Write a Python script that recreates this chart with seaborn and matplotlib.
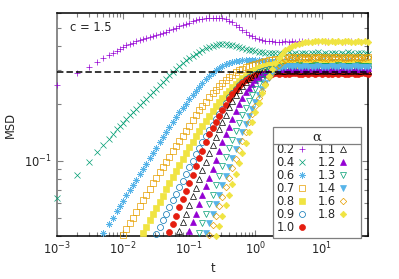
import matplotlib
matplotlib.use("Agg")
import matplotlib.pyplot as plt
from matplotlib.ticker import NullFormatter
import seaborn as sns

# sampling times (shared); each series uses the last len(values) times
t_grid = [0.001, 0.002, 0.003, 0.004, 0.005, 0.006, 0.007, 0.008, 0.009,
          0.01, 0.0112, 0.0126, 0.0141, 0.0158, 0.0178, 0.02, 0.0224, 0.0251, 0.0282,
          0.0316, 0.0355, 0.0398, 0.0447, 0.0501, 0.0562, 0.0631, 0.0708, 0.0794, 0.0891,
          0.1, 0.112, 0.126, 0.141, 0.158, 0.178, 0.2, 0.224, 0.251, 0.282,
          0.316, 0.355, 0.398, 0.447, 0.501, 0.562, 0.631, 0.708, 0.794, 0.891,
          1.0, 1.12, 1.26, 1.41, 1.58, 1.78, 2.0, 2.24, 2.51, 2.82,
          3.16, 3.55, 3.98, 4.47, 5.01, 5.62, 6.31, 7.08, 7.94, 8.91,
          10.0, 11.2, 12.6, 14.1, 15.8, 17.8, 20.0, 22.4, 25.1, 28.2,
          31.6, 35.5, 39.8, 44.7, 50.0]

msd_02 = [0.251, 0.290, 0.313, 0.332, 0.348, 0.361, 0.371, 0.380, 0.389,
          0.398, 0.405, 0.412, 0.419, 0.425, 0.431, 0.437, 0.442, 0.447, 0.453,
          0.459, 0.465, 0.472, 0.479, 0.486, 0.493, 0.501, 0.510, 0.519, 0.527,
          0.535, 0.543, 0.550, 0.556, 0.560, 0.564, 0.566, 0.568, 0.568, 0.566,
          0.562, 0.556, 0.547, 0.536, 0.522, 0.506, 0.490, 0.475, 0.462, 0.452,
          0.445, 0.439, 0.434, 0.430, 0.427, 0.425, 0.423,
          0.424, 0.421, 0.426, 0.423, 0.427, 0.422, 0.425, 0.428, 0.423, 0.426,
          0.421, 0.427, 0.424, 0.429, 0.422, 0.425, 0.428, 0.423, 0.426, 0.424,
          0.421, 0.427, 0.425, 0.422, 0.428, 0.424, 0.426, 0.423]
msd_04 = [0.0638, 0.0843, 0.0989, 0.111, 0.121, 0.130, 0.138, 0.146, 0.152,
          0.158, 0.166, 0.173, 0.180, 0.188, 0.196, 0.204, 0.212, 0.221, 0.230,
          0.240, 0.250, 0.260, 0.271, 0.282, 0.293, 0.304, 0.316, 0.327, 0.338,
          0.348, 0.358, 0.367, 0.376, 0.385, 0.392, 0.398, 0.403, 0.407, 0.410,
          0.411, 0.411, 0.409, 0.406, 0.403, 0.399, 0.394, 0.389, 0.385, 0.381,
          0.377, 0.374, 0.372, 0.370, 0.369, 0.368, 0.368,
          0.371, 0.366, 0.369, 0.372, 0.367, 0.370, 0.365, 0.369, 0.371, 0.366,
          0.370, 0.368, 0.372, 0.367, 0.369, 0.366, 0.371, 0.368, 0.365, 0.370,
          0.367, 0.372, 0.369, 0.366, 0.370, 0.368, 0.371, 0.367]
msd_06 = [0.0417, 0.0461, 0.0497, 0.0542, 0.0578,
          0.0614, 0.0655, 0.0698, 0.0745, 0.0794, 0.0847, 0.0904, 0.0964, 0.103, 0.110,
          0.117, 0.125, 0.133, 0.142, 0.151, 0.160, 0.170, 0.180, 0.190, 0.200,
          0.211, 0.222, 0.234, 0.245, 0.257, 0.268, 0.279, 0.289, 0.299, 0.308,
          0.316, 0.322, 0.327, 0.331, 0.335, 0.337, 0.339, 0.340, 0.340, 0.339,
          0.339, 0.338, 0.337, 0.336, 0.336, 0.335, 0.335,
          0.334, 0.336, 0.333, 0.335, 0.338, 0.334, 0.336, 0.332, 0.335, 0.337,
          0.333, 0.336, 0.334, 0.338, 0.335, 0.333, 0.337, 0.334, 0.336, 0.332,
          0.335, 0.338, 0.334, 0.336, 0.333, 0.335, 0.337, 0.334]
msd_07 = [0.0407, 0.0437, 0.0468, 0.0501, 0.0537, 0.0575, 0.0617, 0.0661, 0.0708, 0.0759,
          0.0813, 0.0866, 0.0923, 0.0983, 0.105, 0.112, 0.119, 0.127, 0.135, 0.144,
          0.153, 0.163, 0.174, 0.184, 0.195, 0.205, 0.216, 0.227, 0.237, 0.247,
          0.257, 0.266, 0.275, 0.284, 0.292, 0.299, 0.305, 0.311, 0.316, 0.321,
          0.325, 0.329, 0.333, 0.336, 0.339, 0.341, 0.343, 0.345, 0.347,
          0.348, 0.351, 0.347, 0.350, 0.352, 0.348, 0.351, 0.349, 0.353, 0.347,
          0.350, 0.352, 0.349, 0.351, 0.348, 0.353, 0.350, 0.347, 0.351, 0.349,
          0.352, 0.348, 0.350, 0.353, 0.349, 0.351]
msd_08 = [0.0417, 0.0449, 0.0484, 0.0521, 0.0562, 0.0606, 0.0653, 0.0704, 0.0759, 0.0818,
          0.0881, 0.0950, 0.102, 0.110, 0.118, 0.126, 0.135, 0.144, 0.153, 0.162,
          0.172, 0.182, 0.193, 0.203, 0.214, 0.224, 0.234, 0.244, 0.254, 0.263,
          0.272, 0.280, 0.288, 0.295, 0.302, 0.308, 0.313, 0.316, 0.318, 0.320, 0.322,
          0.324, 0.322, 0.326, 0.323, 0.325, 0.321, 0.324, 0.327, 0.323, 0.325,
          0.322, 0.326, 0.324, 0.323, 0.326, 0.322, 0.325, 0.324, 0.327, 0.323,
          0.321, 0.325, 0.324, 0.326, 0.322, 0.325, 0.323, 0.326]
msd_09 = [0.0412, 0.0446, 0.0484, 0.0525, 0.0569, 0.0617, 0.0668, 0.0724, 0.0785, 0.0851,
          0.0923, 0.100, 0.108, 0.117, 0.126, 0.135, 0.145, 0.155, 0.166, 0.177,
          0.188, 0.202, 0.216, 0.228, 0.240, 0.250, 0.260, 0.268, 0.275, 0.282,
          0.288, 0.293, 0.297, 0.301, 0.304, 0.306, 0.308,
          0.309, 0.311, 0.308, 0.310, 0.307, 0.311, 0.309, 0.312, 0.308, 0.310,
          0.309, 0.307, 0.311, 0.309, 0.310, 0.308, 0.312, 0.309, 0.307, 0.310,
          0.311, 0.308, 0.309, 0.312, 0.310, 0.307, 0.309, 0.311]
msd_10 = [0.0421, 0.0465, 0.0513, 0.0566, 0.0625, 0.0690, 0.0762, 0.0843, 0.0933, 0.103,
          0.113, 0.125, 0.138, 0.148, 0.159, 0.171, 0.184, 0.197, 0.211, 0.224,
          0.237, 0.247, 0.257, 0.265, 0.272, 0.277, 0.282, 0.284, 0.286, 0.287,
          0.288, 0.288, 0.289,
          0.287, 0.290, 0.288, 0.286, 0.289, 0.291, 0.287, 0.288, 0.290, 0.286,
          0.289, 0.288, 0.290, 0.287, 0.289, 0.286, 0.288, 0.291, 0.287, 0.289,
          0.288, 0.286, 0.290, 0.288, 0.287, 0.289, 0.290, 0.287]
msd_11 = [0.0424, 0.0472, 0.0524, 0.0583, 0.0648, 0.0721, 0.0801, 0.0891, 0.0989, 0.110,
          0.121, 0.133, 0.146, 0.160, 0.175, 0.191, 0.206, 0.221, 0.235, 0.248,
          0.259, 0.269, 0.276, 0.282, 0.286, 0.290, 0.293, 0.295, 0.296, 0.297,
          0.299, 0.296, 0.298, 0.300, 0.297, 0.299, 0.296, 0.298, 0.300, 0.297,
          0.299, 0.298, 0.296, 0.299, 0.297, 0.300, 0.298, 0.296, 0.299, 0.297,
          0.298, 0.300, 0.296, 0.299, 0.297, 0.298, 0.300, 0.297]
msd_12 = [0.0427, 0.0474, 0.0525, 0.0589, 0.0661, 0.0733, 0.0813, 0.0907, 0.101, 0.112,
          0.125, 0.138, 0.151, 0.166, 0.182, 0.198, 0.214, 0.229, 0.243, 0.255,
          0.266, 0.276, 0.285, 0.291, 0.297, 0.300, 0.303,
          0.305, 0.303, 0.306, 0.304, 0.307, 0.305, 0.303, 0.306, 0.304, 0.305,
          0.307, 0.303, 0.305, 0.306, 0.304, 0.307, 0.305, 0.303, 0.306, 0.305,
          0.304, 0.307, 0.303, 0.305, 0.306, 0.304, 0.305, 0.307]
msd_13 = [0.0417, 0.0468, 0.0525, 0.0589, 0.0661, 0.0741, 0.0832, 0.0933, 0.104, 0.116,
          0.129, 0.143, 0.158, 0.174, 0.190, 0.207, 0.223, 0.240, 0.255, 0.269,
          0.281, 0.292, 0.300, 0.306, 0.310, 0.313,
          0.315, 0.317, 0.314, 0.316, 0.318, 0.315, 0.317, 0.314, 0.316, 0.318,
          0.315, 0.317, 0.316, 0.314, 0.317, 0.315, 0.318, 0.316, 0.314, 0.317,
          0.315, 0.316, 0.318, 0.314, 0.316, 0.317]
msd_14 = [0.0417, 0.0468, 0.0525, 0.0589, 0.0661, 0.0741, 0.0827, 0.0923, 0.103, 0.115,
          0.127, 0.141, 0.156, 0.172, 0.187, 0.204, 0.221, 0.240, 0.256, 0.272,
          0.287, 0.299, 0.306, 0.311, 0.313, 0.315,
          0.312, 0.314, 0.311, 0.313, 0.315, 0.312, 0.310, 0.313, 0.314, 0.311,
          0.313, 0.312, 0.314, 0.311, 0.313, 0.315, 0.312, 0.310, 0.313, 0.314,
          0.312, 0.311, 0.313, 0.312]
msd_16 = [0.0407, 0.0457, 0.0513, 0.0575, 0.0646, 0.0724, 0.0813, 0.0912, 0.102, 0.114,
          0.127, 0.142, 0.159, 0.176, 0.195, 0.214, 0.234, 0.254, 0.275, 0.293,
          0.309, 0.321, 0.331, 0.338, 0.343, 0.345, 0.347,
          0.345, 0.348, 0.346, 0.349, 0.344, 0.347, 0.350, 0.346, 0.348, 0.345,
          0.347, 0.349, 0.346, 0.348, 0.344, 0.347, 0.349, 0.346, 0.348, 0.345,
          0.347, 0.350]
msd_18 = [0.0402, 0.0452, 0.0513, 0.0582, 0.0661, 0.0750, 0.0851, 0.0966, 0.110, 0.124,
          0.141, 0.159, 0.180, 0.202, 0.227, 0.252, 0.279, 0.303, 0.327, 0.348,
          0.367, 0.382, 0.394, 0.401, 0.407, 0.413, 0.417, 0.420, 0.422,
          0.424, 0.428, 0.430, 0.427, 0.425, 0.421, 0.426, 0.423, 0.427, 0.422,
          0.425, 0.428, 0.424, 0.421, 0.426, 0.423, 0.427, 0.424]

alpha_labels = ["0.2", "0.4", "0.6", "0.7", "0.8", "0.9", "1.0",
                "1.1", "1.2", "1.3", "1.4", "1.6", "1.8"]
msd_all = [msd_02, msd_04, msd_06, msd_07, msd_08, msd_09, msd_10,
           msd_11, msd_12, msd_13, msd_14, msd_16, msd_18]
plateau = 0.295

# gnuplot-like point types: (marker, colour, filled, size)
purple, green, lblue, orange = "#9400d3", "#009e73", "#56b4e9", "#e69f00"
yellow, blue, red, black = "#f0e442", "#0072b2", "#e51e10", "#000000"
marker_styles = [
    ("+", purple, True, 4.6),
    ("x", green, True, 4.0),
    ((8, 2, 0), lblue, True, 4.6),
    ("s", orange, False, 3.9),
    ("s", yellow, True, 3.9),
    ("o", blue, False, 4.3),
    ("o", red, True, 4.3),
    ("^", black, False, 4.5),
    ("^", purple, True, 4.5),
    ("v", green, False, 4.5),
    ("v", lblue, True, 4.5),
    ("D", orange, False, 3.3),
    ("D", yellow, True, 3.3),
]

sns.set_theme(style="ticks")
plt.rcParams["font.family"] = ["DejaVu Sans"]
plt.rcParams.update({"font.size": 8.3, "xtick.labelsize": 8.3, "ytick.labelsize": 8.3,
                     "axes.labelsize": 8.3, "legend.fontsize": 8.3})

fig = plt.figure(figsize=(3.99, 2.79), dpi=100)
ax = fig.add_axes([0.143, 0.154, 0.779, 0.799])
ax.set_xscale("log")
ax.set_yscale("log")

for lab, vals, (mk, col, filled, ms) in zip(alpha_labels, msd_all, marker_styles):
    tt = t_grid[-len(vals):]
    sns.lineplot(x=tt, y=vals, ax=ax, linestyle="", marker=mk, markersize=ms,
                 color=col, markeredgecolor=col,
                 markerfacecolor=col if filled else "none",
                 markeredgewidth=0.5, label=lab, clip_on=False, zorder=3,
                 estimator=None, errorbar=None, sort=False)

ax.axhline(plateau, color="black", lw=1.1, dashes=(4.2, 2.0), zorder=4)

ax.set_xlim(1e-3, 50)
ax.set_ylim(0.04, 0.6)
ax.xaxis.set_minor_formatter(NullFormatter())
ax.yaxis.set_minor_formatter(NullFormatter())
ax.tick_params(which="both", direction="in", top=True, right=True, color="#808080", width=0.8)
ax.tick_params(which="major", length=4.3)
ax.tick_params(which="minor", length=2.8)
ax.tick_params(axis="x", pad=3)
ax.tick_params(axis="y", pad=4)
for side in ["top", "right", "bottom"]:
    ax.spines[side].set_color("black")
    ax.spines[side].set_linewidth(1.1)
ax.spines["left"].set_color("#808080")
ax.spines["left"].set_linewidth(1.3)

ax.set_xlabel("t")
ax.set_ylabel("MSD")
ax.xaxis.set_label_coords(0.5, -0.115)
ax.yaxis.set_label_coords(-0.13, 0.5)
ax.text(0.042, 0.937, "c = 1.5", transform=ax.transAxes, ha="left", va="center")

handles, labels = ax.get_legend_handles_labels()
leg = ax.legend(handles, labels, ncol=2, loc="upper left", bbox_to_anchor=(0.6945, 0.489),
                borderaxespad=0, markerfirst=False, frameon=True, fancybox=False,
                edgecolor="#7f7f7f", framealpha=1, handlelength=2.6, handletextpad=-0.7,
                columnspacing=0.1, labelspacing=0.0, borderpad=0.3,
                title="α", title_fontproperties={"family": "DejaVu Serif", "size": 9.5})
leg.get_frame().set_linewidth(0.9)
leg.set_zorder(7)

# separator under the key title
fig.canvas.draw()
inv = ax.transAxes.inverted()
fb = leg.get_frame().get_window_extent()
tb = leg.get_title().get_window_extent()
(x0, _), (x1, _) = inv.transform([[fb.x0, fb.y0], [fb.x1, fb.y1]])
ysep = inv.transform([[0, tb.y0 - 1]])[0][1]
ax.plot([x0, x1], [ysep, ysep], transform=ax.transAxes, color="#7f7f7f", lw=0.9,
        clip_on=False, zorder=8)

fig.savefig("out.png", dpi=100)
